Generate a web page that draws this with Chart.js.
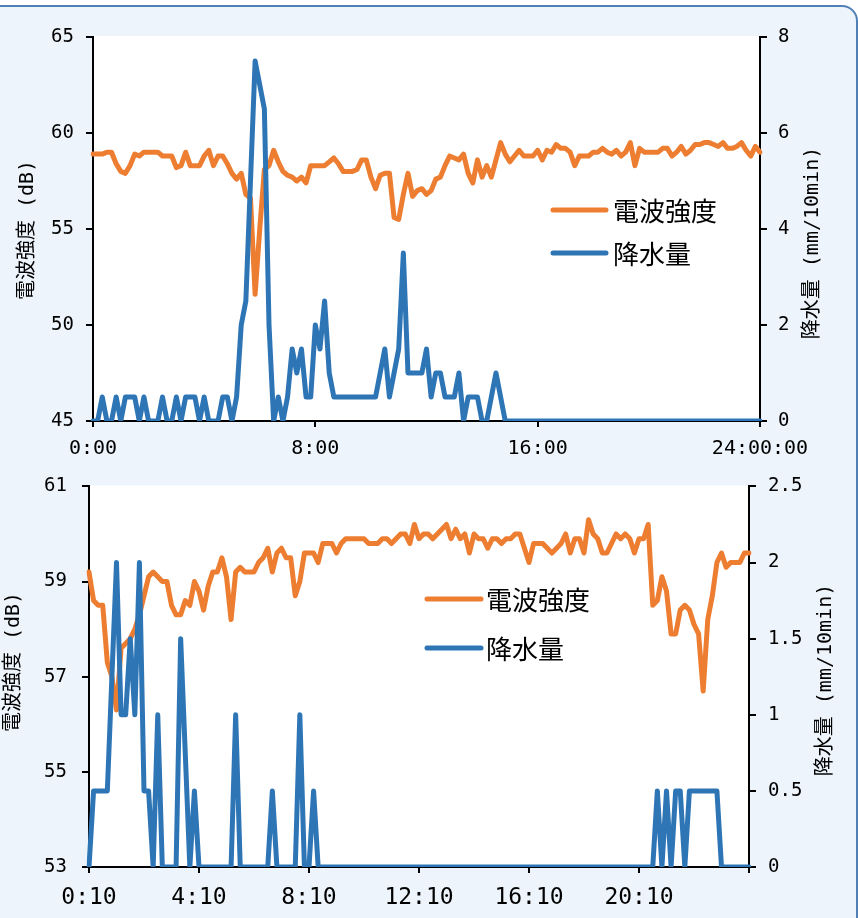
<!DOCTYPE html>
<html>
<head>
<meta charset="utf-8">
<script src="https://cdn.jsdelivr.net/npm/chart.js@4"></script>
<style>
  body { margin: 0; width: 858px; height: 918px; overflow: hidden; position: relative; background: #fff; }
  #frame { position: absolute; left: -20px; top: 5px; width: 878px; height: 1000px; box-sizing: border-box;
           border: 2px solid #4f7fb5; border-radius: 16px; background: #eef4fb; }
  canvas { position: absolute; left: 0; }
  #c1 { top: 0; }
  #c2 { top: 460px; }
</style>
</head>
<body>
<div id="frame"></div>
<canvas id="c1" width="858" height="460"></canvas>
<canvas id="c2" width="858" height="458"></canvas>
<script>
// ---- data (10 min steps) ----
const seriesNames = ["電波強度", "降水量"];

// upper chart 0:00 - 24:00
const signalTop = [
  58.9, 58.9, 58.9, 59.0, 59.0, 58.4, 58.0, 57.9, 58.3, 58.9, 58.8, 59.0,
  59.0, 59.0, 59.0, 58.8, 58.8, 58.8, 58.2, 58.3, 59.0, 58.3, 58.3, 58.3,
  58.8, 59.1, 58.3, 58.8, 58.8, 58.4, 57.9, 57.6, 57.9, 56.8, 56.6, 51.6,
  55.0, 58.1, 58.3, 59.1, 58.5, 58.0, 57.8, 57.7, 57.5, 57.7, 57.4, 58.3,
  58.3, 58.3, 58.3, 58.5, 58.7, 58.4, 58.0, 58.0, 58.0, 58.1, 58.6, 58.6,
  57.7, 57.1, 57.8, 57.9, 57.9, 55.6, 55.5, 56.8, 57.9, 56.7, 57.0, 57.1,
  56.8, 57.0, 57.6, 57.7, 58.3, 58.8, 58.7, 58.6, 58.9, 57.9, 57.4, 58.6,
  57.7, 58.3, 57.7, 58.6, 59.5, 58.9, 58.5, 58.8, 59.1, 58.8, 58.8, 58.8,
  59.1, 58.6, 59.1, 59.0, 59.4, 59.2, 59.2, 59.0, 58.3, 58.8, 58.8, 58.8,
  59.0, 59.0, 59.2, 59.0, 58.9, 59.1, 58.8, 59.0, 59.5, 58.3, 59.2, 59.0,
  59.0, 59.0, 59.0, 59.2, 59.2, 58.8, 59.0, 59.3, 58.9, 59.1, 59.4, 59.4,
  59.5, 59.5, 59.4, 59.3, 59.5, 59.2, 59.2, 59.3, 59.5, 59.1, 58.8, 59.3,
  59.0
];
const rainTop = [
  0, 0, 0.5, 0, 0, 0.5, 0, 0.5, 0.5, 0.5, 0, 0.5,
  0, 0, 0, 0.5, 0, 0, 0.5, 0, 0.5, 0.5, 0.5, 0,
  0.5, 0, 0, 0, 0.5, 0.5, 0, 0.5, 2.0, 2.5, 5.0, 7.5,
  7.0, 6.5, 2.0, 0, 0.5, 0, 0.5, 1.5, 1.0, 1.5, 0.5, 0.5,
  2.0, 1.5, 2.5, 1.0, 0.5, 0.5, 0.5, 0.5, 0.5, 0.5, 0.5, 0.5,
  0.5, 0.5, 1.0, 1.5, 0.5, 1.0, 1.5, 3.5, 1.0, 1.0, 1.0, 1.0,
  1.5, 0.5, 1.0, 1.0, 0.5, 0.5, 0.5, 1.0, 0, 0.5, 0.5, 0.5,
  0, 0, 0.5, 1.0, 0.5, 0, 0, 0, 0, 0, 0, 0,
  0, 0, 0, 0, 0, 0, 0, 0, 0, 0, 0, 0,
  0, 0, 0, 0, 0, 0, 0, 0, 0, 0, 0, 0,
  0, 0, 0, 0, 0, 0, 0, 0, 0, 0, 0, 0,
  0, 0, 0, 0, 0, 0, 0, 0, 0, 0, 0, 0,
  0
];
const tickLabelsTop = ["0:00", "8:00", "16:00", "24:00:00"];

// lower chart 0:10 - 24:10
const signalBottom = [
  59.2, 58.6, 58.5, 58.5, 57.3, 57.0, 56.3, 57.6, 57.7, 57.8, 58.0, 58.3,
  58.7, 59.1, 59.2, 59.1, 59.0, 59.0, 58.5, 58.3, 58.3, 58.6, 58.5, 59.0,
  58.8, 58.4, 58.9, 59.2, 59.2, 59.5, 59.1, 58.2, 59.2, 59.3, 59.2, 59.2,
  59.2, 59.4, 59.5, 59.7, 59.2, 59.6, 59.7, 59.5, 59.5, 58.7, 59.0, 59.6,
  59.6, 59.6, 59.4, 59.8, 59.8, 59.8, 59.6, 59.8, 59.9, 59.9, 59.9, 59.9,
  59.9, 59.8, 59.8, 59.8, 59.9, 59.9, 59.8, 59.9, 60.0, 60.0, 59.8, 60.2,
  59.9, 60.0, 60.0, 59.9, 60.0, 60.1, 60.2, 59.9, 60.1, 59.9, 60.0, 59.6,
  60.0, 59.9, 59.9, 59.7, 59.9, 59.9, 59.8, 59.9, 59.9, 60.0, 60.0, 59.7,
  59.4, 59.8, 59.8, 59.8, 59.7, 59.6, 59.7, 59.8, 60.0, 59.6, 59.9, 59.9,
  59.6, 60.3, 60.0, 59.9, 59.6, 59.6, 59.8, 60.0, 59.9, 60.0, 59.9, 59.6,
  59.9, 59.9, 60.2, 58.5, 58.6, 59.1, 58.8, 57.9, 57.9, 58.4, 58.5, 58.4,
  58.1, 57.9, 56.7, 58.2, 58.7, 59.4, 59.6, 59.3, 59.4, 59.4, 59.4, 59.6,
  59.6
];
const rainBottom = [
  0, 0.5, 0.5, 0.5, 0.5, 1.25, 2.0, 1.0, 1.0, 1.5, 1.0, 2.0,
  0.5, 0.5, 0, 1.0, 0, 0, 0, 0, 1.5, 0.75, 0, 0.5,
  0, 0, 0, 0, 0, 0, 0, 0, 1.0, 0, 0, 0,
  0, 0, 0, 0, 0.5, 0, 0, 0, 0, 0, 1.0, 0,
  0, 0.5, 0, 0, 0, 0, 0, 0, 0, 0, 0, 0,
  0, 0, 0, 0, 0, 0, 0, 0, 0, 0, 0, 0,
  0, 0, 0, 0, 0, 0, 0, 0, 0, 0, 0, 0,
  0, 0, 0, 0, 0, 0, 0, 0, 0, 0, 0, 0,
  0, 0, 0, 0, 0, 0, 0, 0, 0, 0, 0, 0,
  0, 0, 0, 0, 0, 0, 0, 0, 0, 0, 0, 0,
  0, 0, 0, 0, 0.5, 0, 0.5, 0, 0.5, 0.5, 0, 0.5,
  0.5, 0.5, 0.5, 0.5, 0.5, 0.5, 0, 0, 0, 0, 0, 0,
  0
];
const tickLabelsBottom = ["0:10", "4:10", "8:10", "12:10", "16:10", "20:10", ""];

// time categories
function timeList(startMin, count) {
  const out = [];
  for (let k = 0; k < count; k++) {
    const m = startMin + k * 10;
    out.push(Math.floor(m / 60) + ":" + String(m % 60).padStart(2, "0"));
  }
  return out;
}
const timesTop = timeList(0, signalTop.length);
const timesBottom = timeList(10, signalBottom.length);

// ---- styling ----
const FONT_MONO = '"DejaVu Sans Mono", "Noto Sans CJK JP", monospace';
const FONT_JP = '"Noto Sans CJK JP", sans-serif';
const ORANGE = "#ED7D31";
const BLUE = "#2E75B6";

const whiteArea = {
  id: "whiteArea",
  beforeDraw(chart) {
    const a = chart.chartArea;
    chart.ctx.save();
    chart.ctx.fillStyle = "#fff";
    chart.ctx.fillRect(a.left, a.top - 1, a.right - a.left, a.bottom - a.top + 1);
    chart.ctx.restore();
  }
};

// axis titles (both read bottom-to-top) and the line legend
function extras(titles, lg) {
  return {
    id: "extras",
    afterDraw(chart) {
      const ctx = chart.ctx;
      ctx.save();
      ctx.fillStyle = "#000";
      ctx.font = "20px " + FONT_MONO;
      ctx.textAlign = "center";
      ctx.textBaseline = "middle";
      titles.forEach(t => {
        ctx.save();
        ctx.translate(t.x, t.y);
        ctx.rotate(-Math.PI / 2);
        ctx.fillText(t.text, 0, 0);
        ctx.restore();
      });
      ctx.font = "26px " + FONT_JP;
      ctx.textAlign = "left";
      ctx.lineWidth = 5;
      ctx.lineCap = "round";
      chart.data.datasets.forEach((ds, k) => {
        const y = lg.y + k * lg.dy;
        ctx.strokeStyle = ds.borderColor;
        ctx.beginPath();
        ctx.moveTo(lg.x1, y);
        ctx.lineTo(lg.x2, y);
        ctx.stroke();
        ctx.fillText(ds.label, lg.tx, y + 1);
      });
      ctx.restore();
    }
  };
}

function yAxis(pos, min, max, step, width, pad) {
  return {
    position: pos, min: min, max: max,
    afterFit: s => { s.width = width; },
    border: { color: "#000", width: 2 },
    grid: { drawOnChartArea: false, tickLength: 7, lineWidth: 2, color: "#000" },
    ticks: { stepSize: step, padding: pad, color: "#000", font: { family: FONT_MONO, size: 19 },
      callback: v => String(v) }
  };
}

function xAxis(every, labels, height, fontSize, pad) {
  return {
    type: "category",
    afterFit: s => { s.height = height; },
    border: { color: "#000", width: 2 },
    grid: {
      drawOnChartArea: false, tickLength: 6, lineWidth: 2,
      color: c => (c.index % every === 0 ? "#000" : "rgba(0,0,0,0)")
    },
    ticks: {
      autoSkip: false, maxRotation: 0, minRotation: 0, padding: pad, color: "#000",
      font: { family: FONT_MONO, size: fontSize },
      callback: (v, i) => (i % every === 0 ? labels[i / every] : "")
    }
  };
}

function makeChart(id, times, signal, rain, o) {
  return new Chart(document.getElementById(id), {
    type: "line",
    data: {
      labels: times,
      datasets: [
        { label: seriesNames[0], data: signal, yAxisID: "y", borderColor: ORANGE, borderWidth: 5,
          pointRadius: 0, tension: 0, borderJoinStyle: "round", borderCapStyle: "round", order: 1 },
        { label: seriesNames[1], data: rain, yAxisID: "y1", borderColor: BLUE, borderWidth: 5,
          pointRadius: 0, tension: 0, borderJoinStyle: "round", borderCapStyle: "round", order: 0 }
      ]
    },
    options: {
      responsive: false,
      animation: false,
      layout: { padding: { top: o.top, left: 0, right: 0, bottom: 0 } },
      plugins: { legend: { display: false }, tooltip: { enabled: false } },
      scales: {
        x: xAxis(o.every, o.tickLabels, o.xHeight, o.xFont, o.xPad),
        y: yAxis("left", o.yMin, o.yMax, o.yStep, o.leftW, o.leftPad),
        y1: yAxis("right", o.rMin, o.rMax, o.rStep, o.rightW, o.rightPad)
      }
    },
    plugins: [whiteArea, extras(o.titles, o.legend)]
  });
}

makeChart("c1", timesTop, signalTop, rainTop, {
  top: 37, every: 48, tickLabels: tickLabelsTop, xHeight: 39, xFont: 20, xPad: 10,
  yMin: 45, yMax: 65, yStep: 5, leftW: 93, leftPad: 12,
  rMin: 0, rMax: 8, rStep: 2, rightW: 98, rightPad: 11,
  titles: [{ text: "電波強度 (dB)", x: 28, y: 230 }, { text: "降水量 (mm/10min)", x: 813, y: 243 }],
  legend: { x1: 553, x2: 606, tx: 613, y: 210, dy: 43 }
});

makeChart("c2", timesBottom, signalBottom, rainBottom, {
  top: 21, every: 24, tickLabels: tickLabelsBottom, xHeight: 51, xFont: 23, xPad: 11,
  yMin: 53, yMax: 61, yStep: 2, leftW: 89, leftPad: 15,
  rMin: 0, rMax: 2.5, rStep: 0.5, rightW: 109, rightPad: 12,
  titles: [{ text: "電波強度 (dB)", x: 14, y: 202 }, { text: "降水量 (mm/10min)", x: 826, y: 220 }],
  legend: { x1: 427, x2: 481, tx: 486, y: 139, dy: 49 }
});
</script>
</body>
</html>
